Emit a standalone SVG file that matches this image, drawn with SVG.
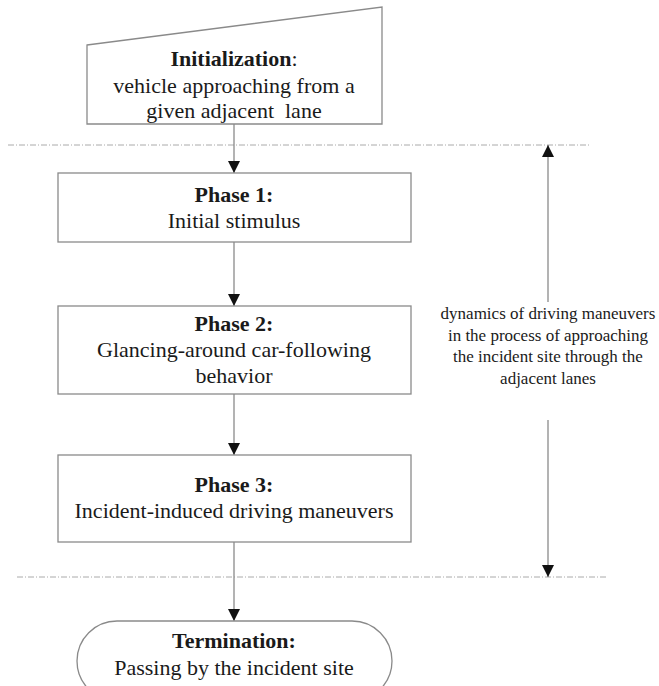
<svg xmlns="http://www.w3.org/2000/svg" width="659" height="686" viewBox="0 0 659 686">
<defs>
<style>
.box{fill:#fff;stroke:#8a8a8a;stroke-width:1.3}
.t{font-family:"Liberation Serif","Times New Roman",serif;font-size:22px;fill:#1a1a1a;text-anchor:middle}
.b{font-weight:bold}
.s{font-family:"Liberation Serif","Times New Roman",serif;font-size:17px;fill:#1a1a1a;text-anchor:middle}
.c{stroke:#8a8a8a;stroke-width:1.3;fill:none}
.dd{stroke:#aaa;stroke-width:1;stroke-dasharray:6 2 1 2;fill:none}
</style>
<marker id="ah" viewBox="0 0 10 10" refX="10" refY="5" markerWidth="12" markerHeight="12" markerUnits="userSpaceOnUse" orient="auto">
<path d="M0,0 L10,5 L0,10 z" fill="#111"/>
</marker>
</defs>
<g id="guides">
<line class="dd" x1="8" y1="145" x2="590" y2="145"/>
<line class="dd" x1="17" y1="577" x2="608" y2="577"/>
</g>
<g id="connectors">
<line class="c" x1="234" y1="124" x2="234" y2="173" marker-end="url(#ah)"/>
<line class="c" x1="234" y1="242" x2="234" y2="306" marker-end="url(#ah)"/>
<line class="c" x1="234" y1="394" x2="234" y2="455" marker-end="url(#ah)"/>
<line class="c" x1="234" y1="542" x2="234" y2="621" marker-end="url(#ah)"/>
<line class="c" x1="548" y1="302" x2="548" y2="145" marker-end="url(#ah)"/>
<line class="c" x1="548" y1="420" x2="548" y2="577" marker-end="url(#ah)"/>
</g>
<g id="init">
<path class="box" d="M87,45 L382,7 L382,124 L87,124 Z"/>
<text class="t" x="234" y="66"><tspan class="b">Initialization</tspan>:</text>
<text class="t" x="234" y="93">vehicle approaching from a</text>
<text class="t" x="234" y="118" xml:space="preserve">given adjacent  lane</text>
</g>
<g id="phase1">
<rect class="box" x="58" y="173" width="353" height="69"/>
<text class="t b" x="234" y="202">Phase 1:</text>
<text class="t" x="234" y="228">Initial stimulus</text>
</g>
<g id="phase2">
<rect class="box" x="58" y="306" width="353" height="88"/>
<text class="t b" x="234" y="331">Phase 2:</text>
<text class="t" x="234" y="357">Glancing-around car-following</text>
<text class="t" x="234" y="383">behavior</text>
</g>
<g id="phase3">
<rect class="box" x="58" y="455" width="353" height="87"/>
<text class="t b" x="234" y="492">Phase 3:</text>
<text class="t" x="234" y="518">Incident-induced driving maneuvers</text>
</g>
<g id="termination">
<rect class="box" x="77" y="621" width="315" height="80" rx="40" ry="40"/>
<text class="t b" x="234" y="648">Termination:</text>
<text class="t" x="234" y="675">Passing by the incident site</text>
</g>
<g id="note">
<text class="s" x="548" y="319">dynamics of driving maneuvers</text>
<text class="s" x="548" y="341">in the process of approaching</text>
<text class="s" x="548" y="362">the incident site through the</text>
<text class="s" x="548" y="384">adjacent lanes</text>
</g>
</svg>
